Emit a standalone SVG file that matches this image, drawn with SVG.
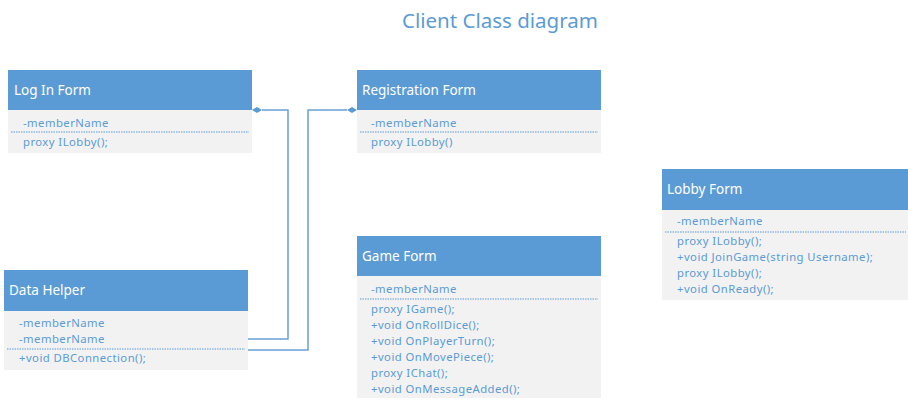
<svg xmlns="http://www.w3.org/2000/svg" width="908" height="403" viewBox="0 0 908 403">
<style>
.hd{fill:#5b9bd5}
.bd{fill:#f2f2f2}
.ht{font-family:"Noto Sans","Open Sans",sans-serif;font-size:13.5px;fill:#ffffff}
.mt{font-family:"Noto Sans","Open Sans",sans-serif;font-size:11.3px;letter-spacing:0.45px;fill:#5b9bd5}
.sep{stroke:#5b9bd5;stroke-width:1;stroke-dasharray:1.5 1}
.conn{fill:none;stroke:#6a9fd6;stroke-width:1.5}
.dia{fill:#5b9bd5}
.title{font-family:"Noto Sans","Open Sans",sans-serif;font-size:20.5px;fill:#5b9bd5}
</style>
<rect width="908" height="403" fill="#ffffff"/>
<text class="title" x="500" y="28" text-anchor="middle">Client Class diagram</text>

<g id="connectors">
<polyline class="conn" points="262,110 288,110 288,339 245,339"/>
<polygon class="dia" points="252,110 257,107 262,110 257,113"/>
<polyline class="conn" points="347,110 308,110 308,350 248,350"/>
<polygon class="dia" points="357,110 352,107 347,110 352,113"/>
</g>

<g id="login">
<rect class="hd" x="8" y="70" width="244" height="40"/>
<rect class="bd" x="8" y="110" width="244" height="43"/>
<text class="ht" x="14" y="95">Log In Form</text>
<text class="mt" x="23" y="127">-memberName</text>
<line class="sep" x1="11" y1="132" x2="249" y2="132"/>
<text class="mt" x="23" y="146">proxy ILobby();</text>
</g>

<g id="registration">
<rect class="hd" x="357" y="70" width="244" height="40"/>
<rect class="bd" x="357" y="110" width="244" height="43"/>
<text class="ht" x="362" y="95">Registration Form</text>
<text class="mt" x="371" y="127">-memberName</text>
<line class="sep" x1="360" y1="132" x2="598" y2="132"/>
<text class="mt" x="371" y="146">proxy ILobby()</text>
</g>

<g id="datahelper">
<rect class="hd" x="4" y="270" width="244" height="41"/>
<rect class="bd" x="4" y="311" width="244" height="59"/>
<text class="ht" x="9" y="295">Data Helper</text>
<text class="mt" x="19" y="327">-memberName</text>
<text class="mt" x="19" y="343">-memberName</text>
<line class="sep" x1="7" y1="349" x2="245" y2="349"/>
<text class="mt" x="19" y="362">+void DBConnection();</text>
</g>

<g id="gameform">
<rect class="hd" x="357" y="236" width="244" height="40"/>
<rect class="bd" x="357" y="276" width="244" height="122"/>
<text class="ht" x="362" y="261">Game Form</text>
<text class="mt" x="371" y="293">-memberName</text>
<line class="sep" x1="360" y1="299" x2="598" y2="299"/>
<text class="mt" x="371" y="313">proxy IGame();</text>
<text class="mt" x="371" y="329">+void OnRollDice();</text>
<text class="mt" x="371" y="345">+void OnPlayerTurn();</text>
<text class="mt" x="371" y="361">+void OnMovePiece();</text>
<text class="mt" x="371" y="377">proxy IChat();</text>
<text class="mt" x="371" y="393">+void OnMessageAdded();</text>
</g>

<g id="lobbyform">
<rect class="hd" x="662" y="169" width="246" height="41"/>
<rect class="bd" x="662" y="210" width="246" height="90"/>
<text class="ht" x="667" y="194">Lobby Form</text>
<text class="mt" x="677" y="225">-memberName</text>
<line class="sep" x1="665" y1="232" x2="906" y2="232"/>
<text class="mt" x="677" y="245">proxy ILobby();</text>
<text class="mt" x="677" y="261">+void JoinGame(string Username);</text>
<text class="mt" x="677" y="277">proxy ILobby();</text>
<text class="mt" x="677" y="293">+void OnReady();</text>
</g>
</svg>
